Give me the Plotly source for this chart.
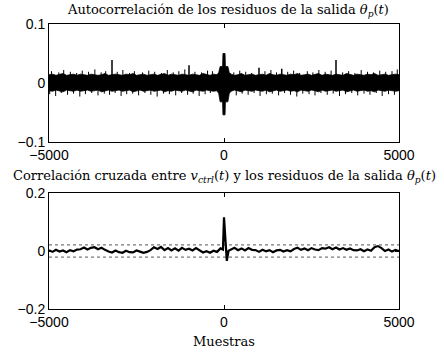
import plotly.graph_objects as go

# ---------------- data ----------------
# Top: autocorrelation of residuals — dense band: core envelope + thin jags + spikes
band_lags_left = list(range(-5000, -199, 100))
band_lags_center = [-150, -110, -40, -30, 30, 40, 110, 150]
band_lags_right = list(range(200, 5001, 100))

upper_left = [0.014, 0.015, 0.013, 0.014, 0.016, 0.013, 0.014, 0.015, 0.013, 0.015,
              0.014, 0.013, 0.015, 0.014, 0.013, 0.014, 0.016, 0.013, 0.014, 0.015,
              0.014, 0.013, 0.015, 0.014, 0.016, 0.013, 0.014, 0.015, 0.013, 0.014,
              0.015, 0.013, 0.014, 0.016, 0.013, 0.015, 0.014, 0.013, 0.015, 0.014,
              0.013, 0.015, 0.014, 0.013, 0.016, 0.014, 0.013, 0.015, 0.014]
upper_center = [0.018, 0.028, 0.028, 0.050, 0.050, 0.028, 0.028, 0.018]
upper_right = [0.015, 0.013, 0.014, 0.016, 0.013, 0.014, 0.015, 0.013, 0.014, 0.015,
               0.013, 0.016, 0.014, 0.013, 0.015, 0.014, 0.013, 0.015, 0.014, 0.016,
               0.013, 0.014, 0.015, 0.013, 0.014, 0.016, 0.013, 0.015, 0.014, 0.013,
               0.015, 0.014, 0.013, 0.016, 0.014, 0.013, 0.015, 0.014, 0.013, 0.015,
               0.014, 0.016, 0.013, 0.014, 0.015, 0.013, 0.014, 0.015, 0.014]

lower_left = [-0.013, -0.014, -0.012, -0.013, -0.015, -0.012, -0.013, -0.014, -0.012, -0.014,
              -0.013, -0.012, -0.014, -0.013, -0.012, -0.015, -0.013, -0.012, -0.014, -0.013,
              -0.012, -0.014, -0.013, -0.012, -0.015, -0.013, -0.012, -0.014, -0.013, -0.012,
              -0.014, -0.013, -0.012, -0.015, -0.013, -0.014, -0.012, -0.013, -0.014, -0.012,
              -0.013, -0.015, -0.012, -0.013, -0.014, -0.012, -0.013, -0.014, -0.013]
lower_center = [-0.018, -0.032, -0.032, -0.054, -0.054, -0.032, -0.032, -0.018]
lower_right = [-0.014, -0.012, -0.013, -0.015, -0.012, -0.013, -0.014, -0.012, -0.013, -0.014,
               -0.012, -0.015, -0.013, -0.012, -0.014, -0.013, -0.012, -0.014, -0.013, -0.015,
               -0.012, -0.013, -0.014, -0.012, -0.013, -0.015, -0.012, -0.014, -0.013, -0.012,
               -0.014, -0.013, -0.012, -0.015, -0.013, -0.012, -0.014, -0.013, -0.012, -0.014,
               -0.013, -0.015, -0.012, -0.013, -0.014, -0.012, -0.013, -0.014, -0.013]

jag_up_lags = [-4930, -4720, -4580, -4390, -4210, -4050, -3870, -3690, -3510, -3380,
               -3050, -2890, -2700, -2560, -2330, -2150, -1980, -1790, -1620, -1450,
               -1290, -1120, -830, -640, -470, -330,
               280, 450, 620, 790, 1170, 1340, 1500, 1820, 1990, 2160,
               2380, 2540, 2710, 2890, 3060, 3390, 3560, 3740, 3920, 4100,
               4270, 4450, 4620, 4800, 4950]
jag_up_tops = [0.020, 0.018, 0.022, 0.019, 0.017, 0.021, 0.019, 0.023, 0.018, 0.020,
               0.019, 0.022, 0.017, 0.020, 0.018, 0.021, 0.019, 0.017, 0.022, 0.018,
               0.020, 0.023, 0.019, 0.018, 0.021, 0.020,
               0.018, 0.021, 0.019, 0.017, 0.020, 0.022, 0.018, 0.019, 0.021, 0.017,
               0.020, 0.018, 0.022, 0.019, 0.021, 0.018, 0.020, 0.017, 0.022, 0.019,
               0.018, 0.021, 0.019, 0.020, 0.023]
jag_dn_lags = [-4980, -4810, -4650, -4470, -4300, -4120, -3960, -3780, -3600, -3420,
               -3270, -3110, -2940, -2780, -2610, -2440, -2260, -2090, -1910, -1730,
               -1560, -1380, -1210, -1040, -880, -710, -540, -390,
               350, 520, 690, 860, 1030, 1210, 1380, 1560, 1730, 1900,
               2080, 2250, 2430, 2600, 2770, 2950, 3120, 3300, 3470, 3650,
               3820, 4000, 4170, 4350, 4520, 4700, 4870]
jag_dn_bottoms = [-0.019, -0.022, -0.017, -0.020, -0.018, -0.023, -0.019, -0.017, -0.021, -0.018,
                  -0.020, -0.017, -0.022, -0.019, -0.018, -0.021, -0.017, -0.020, -0.023, -0.018,
                  -0.019, -0.021, -0.017, -0.020, -0.018, -0.022, -0.019, -0.017,
                  -0.021, -0.018, -0.020, -0.017, -0.022, -0.019, -0.018, -0.021, -0.017, -0.020,
                  -0.023, -0.018, -0.019, -0.021, -0.017, -0.020, -0.018, -0.022, -0.019, -0.017,
                  -0.021, -0.018, -0.020, -0.017, -0.022, -0.019, -0.020]

spike_lags = [-3200, -1000, 1000, 1650, 3200]
spike_tops = [0.039, 0.030, 0.026, 0.024, 0.039]

# Bottom: cross-correlation
cc_lags_left = list(range(-5000, -99, 100))
cc_lags_center = [-30, 0, 40, 80, 130]
cc_lags_right = list(range(200, 5001, 100))

cc_left = [0.003, -0.003, 0.004, -0.002, 0.002, -0.004, 0.003, -0.001, 0.005,
           0.006, 0.012, 0.005, 0.011, 0.013, 0.006, 0.011, 0.004,
           -0.002, -0.005, 0.002, -0.004, -0.006, 0.001, -0.004, -0.005, 0.002, -0.002, -0.006, -0.003, 0.003,
           0.013, 0.007, 0.014,
           0.003, 0.010, 0.002, 0.009, 0.001, 0.011, 0.004, 0.008, 0.002, 0.010, 0.003,
           -0.005, -0.001, -0.006, 0.001, -0.003,
           0.009]
cc_center = [0.005, 0.116, 0.020, -0.034, 0.001]
cc_right = [0.005, 0.011, 0.003, 0.009, 0.002, 0.010, 0.004,
            0.003, -0.003, 0.004, -0.001, 0.003, -0.004, 0.002, 0.004, -0.002, 0.003, -0.001,
            0.007, 0.011, 0.004, 0.009, 0.003, 0.010,
            0.005, 0.003, 0.010, 0.008, 0.013, 0.006, 0.012, 0.005, 0.010, 0.004, 0.009, 0.003,
            0.002, 0.006, -0.001, 0.005, 0.001,
            0.013, 0.017, 0.010,
            0.000, 0.005, -0.002, 0.004, -0.001]

conf_level = 0.021
x_range = [-5000, 5000]
x_ticks = [-5000, 0, 5000]
x_ticktext = ["\u22125000", "0", "5000"]
y1_ticks = [-0.1, 0, 0.1]
y1_ticktext = ["\u22120.1", "0", "0.1"]
y2_ticks = [-0.2, 0, 0.2]
y2_ticktext = ["\u22120.2", "0", "0.2"]

title_top = "Autocorrelación de los residuos de la salida <i>θ</i><sub><i>p</i></sub>(<i>t</i>)"
title_bot = ("Correlación cruzada entre <i>v</i><sub><i>ctrl</i></sub>(<i>t</i>) "
             "y los residuos de la salida <i>θ</i><sub><i>p</i></sub>(<i>t</i>)")
xlabel = "Muestras"

# ---------------- figure ----------------
band_lags = band_lags_left + band_lags_center + band_lags_right
upper = upper_left + upper_center + upper_right
lower = lower_left + lower_center + lower_right

fig = go.Figure()
fig.add_trace(go.Scatter(
    x=band_lags + band_lags[::-1], y=upper + lower[::-1],
    fill="toself", fillcolor="black", mode="lines",
    line=dict(color="black", width=0.8), xaxis="x", yaxis="y", showlegend=False))

jx, jy = [], []
for lg, tp in list(zip(jag_up_lags, jag_up_tops)) + list(zip(jag_dn_lags, jag_dn_bottoms)):
    jx += [lg, lg, None]
    jy += [0, tp, None]
fig.add_trace(go.Scatter(x=jx, y=jy, mode="lines", line=dict(color="black", width=1),
                         xaxis="x", yaxis="y", showlegend=False))

sx, sy = [], []
for lg, tp in zip(spike_lags, spike_tops):
    sx += [lg, lg, None]
    sy += [0, tp, None]
fig.add_trace(go.Scatter(x=sx, y=sy, mode="lines", line=dict(color="black", width=1.5),
                         xaxis="x", yaxis="y", showlegend=False))

cc_lags = cc_lags_left + cc_lags_center + cc_lags_right
cc = cc_left + cc_center + cc_right
for lvl in (conf_level, -conf_level):
    fig.add_trace(go.Scatter(x=x_range, y=[lvl, lvl], mode="lines",
                             line=dict(color="#555555", width=1, dash="dot"),
                             xaxis="x2", yaxis="y2", showlegend=False))
fig.add_trace(go.Scatter(x=cc_lags, y=cc, mode="lines",
                         line=dict(color="black", width=2.2),
                         xaxis="x2", yaxis="y2", showlegend=False))

tickfont = dict(family="Liberation Sans, Arial, sans-serif", size=14, color="black")
axis_common = dict(showgrid=False, zeroline=False, showline=True, linecolor="black",
                   linewidth=1, mirror="ticks", ticks="inside", ticklen=4,
                   tickcolor="black", tickfont=tickfont)
serif = dict(family="DejaVu Serif, Liberation Serif, serif", size=13, color="black")

fig.update_layout(
    width=444, height=354,
    margin=dict(l=49, r=45, t=24, b=45),
    paper_bgcolor="white", plot_bgcolor="white",
    xaxis=dict(domain=[0, 1], range=x_range, tickvals=x_ticks, ticktext=x_ticktext,
               anchor="y", **axis_common),
    yaxis=dict(domain=[0.586, 1], range=[-0.1, 0.1], tickvals=y1_ticks,
               ticktext=y1_ticktext, anchor="x", **axis_common),
    xaxis2=dict(domain=[0, 1], range=x_range, tickvals=x_ticks, ticktext=x_ticktext,
                anchor="y2", **axis_common),
    yaxis2=dict(domain=[0, 0.407], range=[-0.2, 0.2], tickvals=y2_ticks,
                ticktext=y2_ticktext, anchor="x2", **axis_common),
    annotations=[
        dict(text=title_top, x=0.51, y=1.049, xref="paper", yref="paper",
             showarrow=False, xanchor="center", yanchor="middle", font=serif),
        dict(text=title_bot, x=0.50, y=0.464, xref="paper", yref="paper",
             showarrow=False, xanchor="center", yanchor="middle", font=serif),
        dict(text=xlabel, x=0.5, y=-0.115, xref="paper", yref="paper",
             showarrow=False, xanchor="center", yanchor="middle", font=serif),
    ],
)

fig.write_html("out.html", config={"displayModeBar": False},
               post_script="document.body.style.margin='0';document.body.style.overflow='hidden';")
